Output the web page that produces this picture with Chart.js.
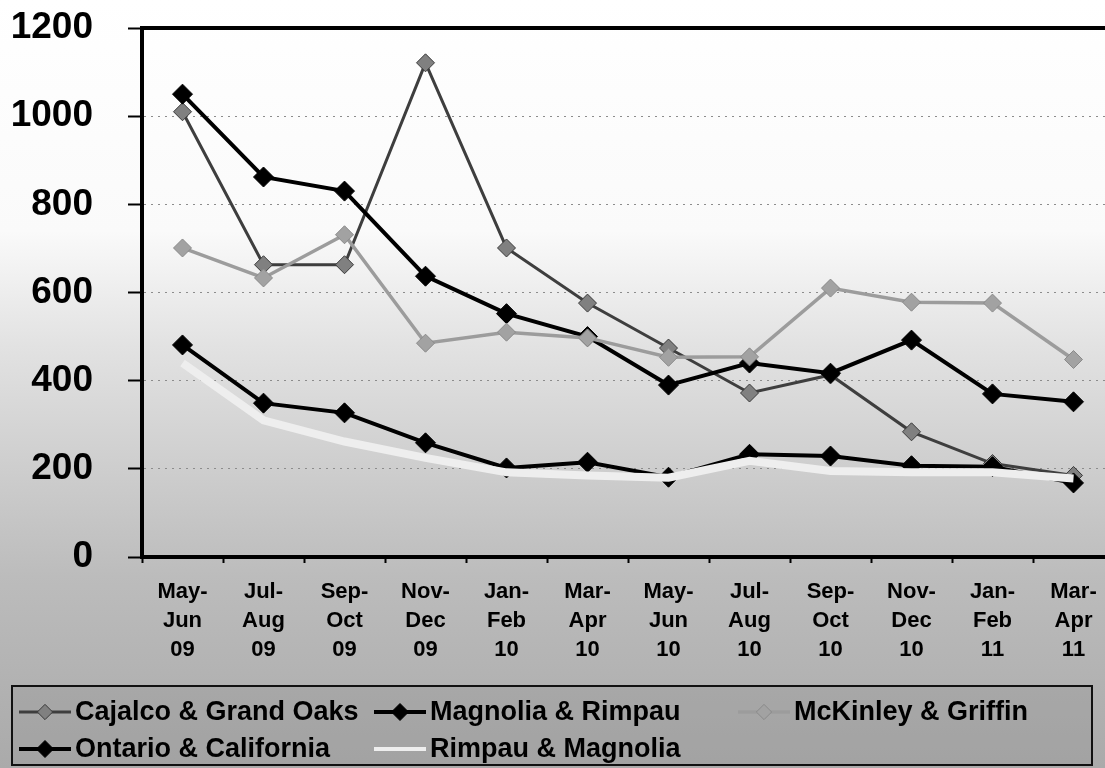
<!DOCTYPE html>
<html>
<head>
<meta charset="utf-8">
<script src="https://cdn.jsdelivr.net/npm/chart.js@4.4.1/dist/chart.umd.min.js"></script>
<style>
  html, body { margin:0; padding:0; width:1105px; height:768px; overflow:hidden; background:#fff; }
  #wrap { position:relative; width:1125px; height:768px; }
  canvas { display:block; }
</style>
</head>
<body>
<div id="wrap"><canvas id="c" width="1125" height="768"></canvas></div>
<script>
// ---- data ----
const categories = [
  ['May-','Jun','09'], ['Jul-','Aug','09'], ['Sep-','Oct','09'], ['Nov-','Dec','09'],
  ['Jan-','Feb','10'], ['Mar-','Apr','10'], ['May-','Jun','10'], ['Jul-','Aug','10'],
  ['Sep-','Oct','10'], ['Nov-','Dec','10'], ['Jan-','Feb','11'], ['Mar-','Apr','11']
];
const seriesNames = ['Cajalco & Grand Oaks', 'Magnolia & Rimpau', 'McKinley & Griffin', 'Ontario & California', 'Rimpau & Magnolia'];
const cajalcoGrandOaks   = [1010, 663, 663, 1121, 701, 576, 474, 372, 413, 284, 212, 185];
const magnoliaRimpau     = [1050, 862, 830, 637, 552, 500, 390, 440, 417, 492, 370, 352];
const mckinleyGriffin    = [701, 633, 731, 485, 510, 497, 453, 454, 610, 578, 576, 448];
const ontarioCalifornia  = [481, 349, 327, 259, 202, 215, 181, 233, 229, 207, 205, 168];
const rimpauMagnolia     = [440, 310, 262, 225, 192, 185, 180, 218, 195, 192, 192, 178];
const yMin = 0, yMax = 1200, yStep = 200;

const FONT = '"Liberation Sans", Arial, Helvetica, sans-serif';

const bgPlugin = {
  id: 'bg',
  beforeDraw(chart) {
    const {ctx, width, height} = chart;
    const g = ctx.createLinearGradient(0, 0, 0, height);
    g.addColorStop(0.00, '#ffffff');
    g.addColorStop(0.30, '#fafafa');
    g.addColorStop(0.45, '#e2e2e2');
    g.addColorStop(0.60, '#cfcfcf');
    g.addColorStop(0.75, '#bcbcbc');
    g.addColorStop(1.00, '#aaaaaa');
    ctx.save();
    ctx.fillStyle = g;
    ctx.fillRect(0, 0, width, height);
    ctx.restore();
  }
};

const frameLegendPlugin = {
  id: 'frameLegend',
  afterDraw(chart) {
    const {ctx, chartArea} = chart;
    ctx.save();
    // top border of plot area
    ctx.strokeStyle = '#000';
    ctx.lineWidth = 4;
    ctx.beginPath();
    ctx.moveTo(chartArea.left - 2, chartArea.top);
    ctx.lineTo(chartArea.right, chartArea.top);
    ctx.stroke();

    // legend box
    const box = {x: 12, y: 686, w: 1080, h: 79};
    ctx.fillStyle = 'rgba(150,150,150,0.35)';
    ctx.fillRect(box.x, box.y, box.w, box.h);
    ctx.lineWidth = 2;
    ctx.strokeStyle = '#111';
    ctx.strokeRect(box.x, box.y, box.w, box.h);

    const cols = [19, 374, 738];
    const rows = [712, 749];
    const place = [[0,0],[1,0],[2,0],[0,1],[1,1]];
    ctx.font = 'bold 27px ' + FONT;
    ctx.textBaseline = 'middle';
    ctx.textAlign = 'left';
    chart.data.datasets.forEach((ds, i) => {
      const [c, r] = place[i];
      const x0 = cols[c], y = rows[r];
      ctx.strokeStyle = ds.borderColor;
      ctx.lineWidth = Math.min(ds.borderWidth, 4);
      ctx.beginPath();
      ctx.moveTo(x0, y);
      ctx.lineTo(x0 + 52, y);
      ctx.stroke();
      if (ds.pointRadius > 0) {
        const rr = ds.pointRadius * 0.85;
        ctx.fillStyle = ds.pointBackgroundColor;
        ctx.strokeStyle = ds.pointBorderColor;
        ctx.lineWidth = 1;
        ctx.beginPath();
        ctx.moveTo(x0 + 26 - rr, y);
        ctx.lineTo(x0 + 26, y - rr);
        ctx.lineTo(x0 + 26 + rr, y);
        ctx.lineTo(x0 + 26, y + rr);
        ctx.closePath();
        ctx.fill();
        ctx.stroke();
      }
      ctx.fillStyle = '#000';
      ctx.fillText(ds.label, x0 + 56, y + 1);
    });
    ctx.restore();
  }
};

function series(label, data, line, lw, fill, border, radius, order) {
  return {
    label, data,
    borderColor: line, borderWidth: lw,
    pointStyle: 'rectRot',
    pointRadius: radius, pointHoverRadius: radius,
    pointBackgroundColor: fill, pointBorderColor: border, pointBorderWidth: 1,
    tension: 0, fill: false, order
  };
}

new Chart(document.getElementById('c'), {
  type: 'line',
  data: {
    labels: categories,
    datasets: [
      series(seriesNames[0], cajalcoGrandOaks,  '#3e3e3e', 3, '#808080', '#3a3a3a', 9, 5),
      series(seriesNames[1], magnoliaRimpau,    '#000000', 4, '#000000', '#000000', 10, 4),
      series(seriesNames[2], mckinleyGriffin,   '#9c9c9c', 3.5, '#a2a2a2', '#8a8a8a', 9, 3),
      series(seriesNames[3], ontarioCalifornia, '#000000', 4, '#000000', '#000000', 10, 2),
      series(seriesNames[4], rimpauMagnolia,    '#eeeeee', 8, '#eeeeee', '#eeeeee', 0, 1)
    ]
  },
  options: {
    responsive: false,
    animation: false,
    devicePixelRatio: 1,
    layout: { padding: { top: 28, right: 10, bottom: 0, left: 0 } },
    plugins: { legend: { display: false }, tooltip: { enabled: false } },
    scales: {
      x: {
        offset: true,
        grid: { offset: true, drawOnChartArea: false, tickLength: 6, tickColor: '#000', tickWidth: 2 },
        border: { color: '#000', width: 4 },
        ticks: {
          color: '#000', maxRotation: 0, autoSkip: false, padding: 14,
          font: { family: FONT, size: 22, weight: 'bold', lineHeight: 1.32 }
        },
        afterFit(s) { s.height = 211; }
      },
      y: {
        min: yMin, max: yMax,
        grid: {
          color: (c) => (c.tick && (c.tick.value === yMin || c.tick.value === yMax)) ? 'rgba(0,0,0,0)' : '#8c8c8c',
          lineWidth: 1, tickLength: 14, tickColor: '#000', tickWidth: 2
        },
        border: { color: '#000', width: 4, dash: [2, 5] },
        ticks: {
          stepSize: yStep, color: '#000', padding: 35,
          font: { family: FONT, size: 37, weight: 'bold' },
          callback: (v) => String(v)
        },
        afterFit(s) { s.width = 142; s.paddingTop = 0; s.paddingBottom = 0; }
      }
    }
  },
  plugins: [bgPlugin, frameLegendPlugin]
});
</script>
</body>
</html>
